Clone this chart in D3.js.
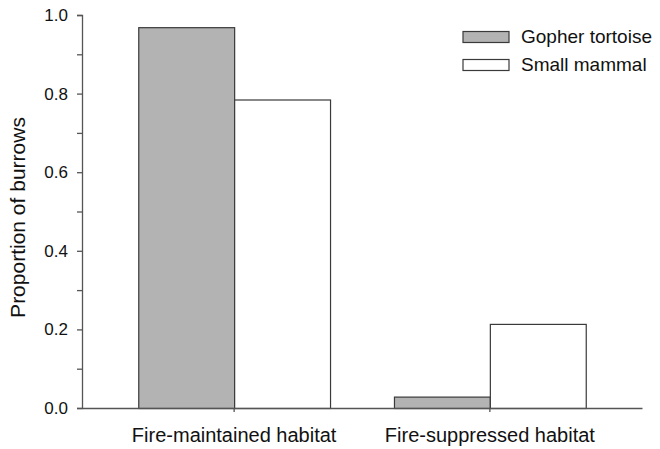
<!DOCTYPE html>
<html>
<head>
<meta charset="utf-8">
<script src="https://cdn.jsdelivr.net/npm/d3@7"></script>
<style>
  body { margin: 0; background: #fff; }
  svg { display: block; font-family: "Liberation Sans", Arial, sans-serif; }
</style>
</head>
<body>
<svg id="chart"></svg>
<script>
const categories = ["Fire-maintained habitat", "Fire-suppressed habitat"];
const seriesNames = ["Gopher tortoise", "Small mammal"];
const gopherTortoise = [0.969, 0.029];
const smallMammal = [0.785, 0.214];
const yTicks = [0, 0.2, 0.4, 0.6, 0.8, 1.0];
const yMinorTicks = [0.1, 0.3, 0.5, 0.7, 0.9];

const width = 660, height = 449;
const margin = { left: 82, right: 18, top: 15, bottom: 41 };
const fills = ["#b3b3b3", "#ffffff"];

const svg = d3.select("#chart").attr("width", width).attr("height", height);

const x = d3.scaleBand()
  .domain(categories)
  .range([margin.left, width - margin.right])
  .paddingInner(0.25)
  .paddingOuter(0.22);
const xSub = d3.scaleBand().domain(seriesNames).range([0, x.bandwidth()]);
const y = d3.scaleLinear().domain([0, 1]).range([height - margin.bottom, margin.top]);

const rows = categories.map((c, i) => ({
  category: c,
  values: [gopherTortoise[i], smallMammal[i]]
}));

// bars
const groups = svg.append("g").selectAll("g").data(rows).join("g")
  .attr("transform", d => `translate(${x(d.category)},0)`);
groups.selectAll("rect")
  .data(d => d.values.map((v, j) => ({ key: seriesNames[j], value: v, j })))
  .join("rect")
  .attr("x", d => xSub(d.key) + 0.5)
  .attr("y", d => y(d.value) + 0.5)
  .attr("width", xSub.bandwidth())
  .attr("height", d => y(0) - y(d.value))
  .attr("fill", d => fills[d.j])
  .attr("stroke", "#3a3a3a")
  .attr("stroke-width", 1.2);

// y axis
svg.append("g")
  .attr("transform", `translate(${margin.left},0)`)
  .call(d3.axisLeft(y).tickValues(yTicks).tickFormat(d3.format(".1f")).tickSize(5).tickPadding(9));
svg.append("g")
  .attr("transform", `translate(${margin.left},0)`)
  .call(d3.axisLeft(y).tickValues(yMinorTicks).tickFormat("").tickSize(5))
  .select(".domain").remove();

// x axis
const xAxis = svg.append("g")
  .attr("transform", `translate(0,${y(0)})`)
  .call(d3.axisBottom(x).tickSize(4).tickSizeOuter(0).tickPadding(20));

svg.selectAll(".domain, .tick line").attr("stroke", "#555").attr("stroke-width", 1.3);
svg.selectAll(".tick text").attr("fill", "#111").attr("font-size", 17)
  .attr("font-family", "'Liberation Sans', Arial, sans-serif");
xAxis.selectAll(".tick text").attr("font-size", 20).attr("dy", null).attr("y", 34);

// y label
svg.append("text")
  .attr("transform", `translate(25,${(margin.top + y(0)) / 2 + 6}) rotate(-90)`)
  .attr("text-anchor", "middle")
  .attr("font-size", 21)
  .attr("fill", "#111")
  .text("Proportion of burrows");

// legend
const legend = svg.append("g").attr("transform", "translate(463,43)");
const item = legend.selectAll("g").data(seriesNames).join("g")
  .attr("transform", (d, i) => `translate(0,${i * 28})`);
item.append("rect")
  .attr("y", -11.5)
  .attr("width", 46).attr("height", 11)
  .attr("fill", (d, i) => fills[i])
  .attr("stroke", "#3a3a3a").attr("stroke-width", 1.2);
item.append("text")
  .attr("x", 58).attr("y", 0)
  .attr("font-size", 19)
  .attr("fill", "#111")
  .text(d => d);
</script>
</body>
</html>
